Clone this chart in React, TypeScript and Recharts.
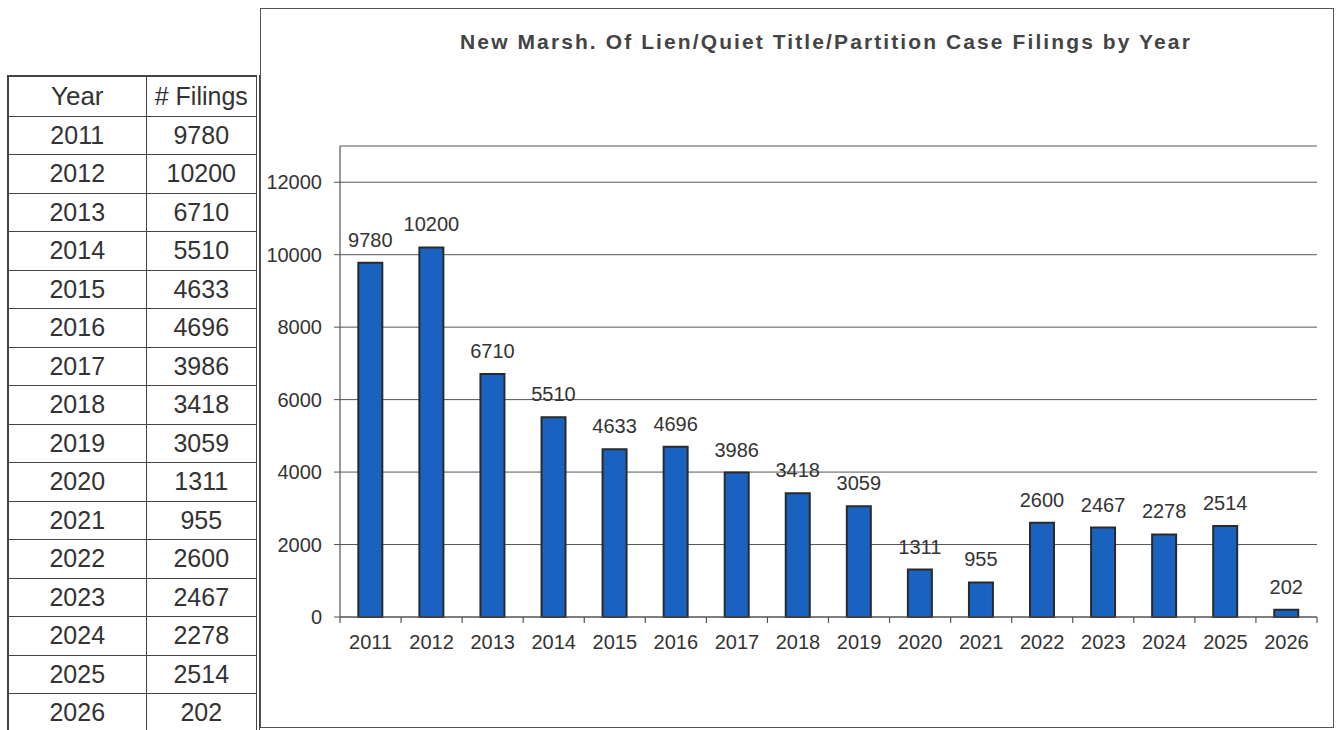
import { BarChart, Bar, XAxis, YAxis, CartesianGrid, LabelList } from "recharts";

const years = ["2011", "2012", "2013", "2014", "2015", "2016", "2017", "2018", "2019", "2020", "2021", "2022", "2023", "2024", "2025", "2026"];
const filings = [9780, 10200, 6710, 5510, 4633, 4696, 3986, 3418, 3059, 1311, 955, 2600, 2467, 2278, 2514, 202];
const yTicks = [0, 2000, 4000, 6000, 8000, 10000, 12000];

const TITLE = "New Marsh. Of Lien/Quiet Title/Partition Case Filings by Year";
const FONT = "'Liberation Sans', Arial, sans-serif";
const TEXT = "#333";
const TICK_SIZE = 6;
const TICK_MARGIN = 12;

const data = years.map((year, i) => ({ year, value: filings[i] }));

function YearTick(props: any) {
  const { x, y, payload, index, visibleTicksCount, width } = props;
  const half = payload?.offset ?? width / visibleTicksCount / 2;
  const axisY = y - TICK_SIZE - TICK_MARGIN;
  const isLast = index === visibleTicksCount - 1;
  return (
    <g>
      <line x1={x - half} x2={x - half} y1={axisY} y2={axisY + TICK_SIZE} stroke="#555" strokeWidth={1.2} />
      {isLast && <line x1={x + half} x2={x + half} y1={axisY} y2={axisY + TICK_SIZE} stroke="#555" strokeWidth={1.2} />}
      <text x={x} y={y} dy="0.71em" textAnchor="middle" fill={TEXT} fontSize={20} fontFamily={FONT}>
        {payload.value}
      </text>
    </g>
  );
}

function FilingsTable() {
  const cell = {
    borderRight: "1.5px solid #444",
    borderBottom: "1.5px solid #444",
    height: 37.5,
    padding: 0,
    textAlign: "center" as const,
    fontSize: 25,
    color: TEXT,
    fontFamily: FONT,
  };
  return (
    <table
      style={{
        position: "absolute",
        left: 7,
        top: 75,
        width: 250,
        borderCollapse: "collapse",
        borderTop: "2.5px solid #444",
        borderLeft: "2.5px solid #444",
        borderRight: "4px double #444",
        tableLayout: "fixed",
      }}
    >
      <colgroup>
        <col style={{ width: 138 }} />
        <col style={{ width: 112 }} />
      </colgroup>
      <tbody>
        <tr>
          <td style={{ ...cell, height: 38.5, fontSize: 26 }}>Year</td>
          <td style={{ ...cell, height: 38.5, fontSize: 25 }}># Filings</td>
        </tr>
        {years.map((y, i) => (
          <tr key={y}>
            <td style={cell}>{y}</td>
            <td style={cell}>{filings[i]}</td>
          </tr>
        ))}
      </tbody>
    </table>
  );
}

export default function App() {
  return (
    <div style={{ position: "absolute", left: 0, top: 0, width: 1339, height: 730, background: "#fff", overflow: "hidden" }}>
      <FilingsTable />

      <div
        style={{
          position: "absolute",
          left: 260,
          top: 8,
          width: 1074,
          height: 720,
          border: "1.5px solid #555",
          boxSizing: "border-box",
        }}
      />

      <div
        style={{
          position: "absolute",
          left: 426,
          top: 30,
          width: 800,
          textAlign: "center",
          fontFamily: FONT,
          fontWeight: "bold",
          fontSize: 21,
          letterSpacing: 2.1,
          color: "#444",
          whiteSpace: "nowrap",
        }}
      >
        {TITLE}
      </div>

      <div style={{ position: "absolute", left: 260, top: 8 }}>
        <BarChart
          width={1074}
          height={720}
          data={data}
          margin={{ top: 138, right: 17, bottom: 70, left: 0 }}
          barCategoryGap="30%"
        >
          <CartesianGrid vertical={false} stroke="#555" strokeWidth={1} />
          <XAxis
            dataKey="year"
            height={41}
            interval={0}
            tickLine={false}
            tickSize={TICK_SIZE}
            tickMargin={TICK_MARGIN}
            axisLine={{ stroke: "#555", strokeWidth: 1.2 }}
            tick={<YearTick />}
          />
          <XAxis xAxisId="top" orientation="top" dataKey="year" height={0} tick={false} tickLine={false} axisLine={{ stroke: "#555", strokeWidth: 1.2 }} />
          <YAxis
            width={80}
            domain={[0, 13000]}
            ticks={yTicks}
            interval={0}
            tickSize={6}
            tickMargin={12}
            tickLine={{ stroke: "#555" }}
            axisLine={{ stroke: "#555", strokeWidth: 1.2 }}
            tick={{ fill: TEXT, fontSize: 20, fontFamily: FONT }}
          />
          <YAxis yAxisId="right" orientation="right" width={0} domain={[0, 13000]} tick={false} tickLine={false} axisLine={{ stroke: "#555", strokeWidth: 1.2 }} />
          <Bar dataKey="value" fill="#1a62c0" stroke="#2a2a2a" strokeWidth={2} isAnimationActive={false}>
            <LabelList dataKey="value" position="top" offset={16} fill={TEXT} fontSize={20} fontFamily={FONT} />
          </Bar>
        </BarChart>
      </div>
    </div>
  );
}
